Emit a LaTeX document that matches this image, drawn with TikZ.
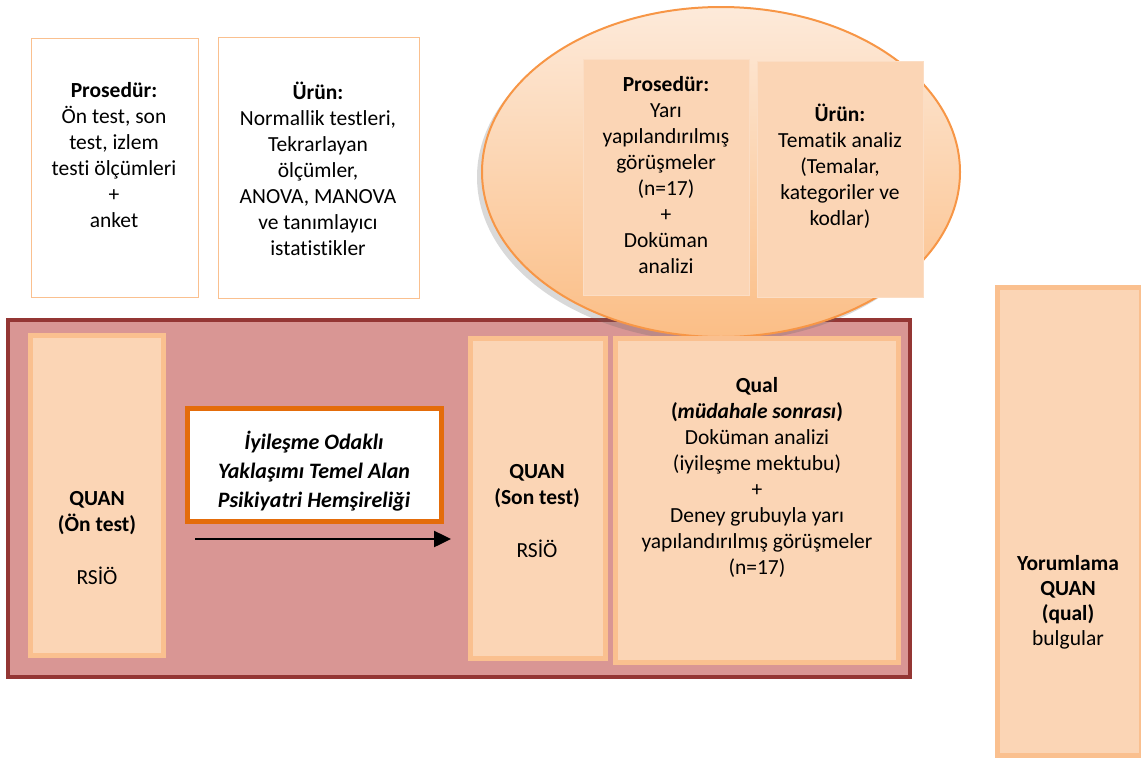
\documentclass[tikz,border=0pt]{standalone}
\usepackage{fontspec}
\setmainfont{Carlito}[Ligatures=NoCommon]
\usetikzlibrary{arrows.meta,shapes.geometric,shadows}
\definecolor{FrameRed}{HTML}{943634}
\definecolor{FrameFill}{HTML}{D99694}
\definecolor{PeachFill}{HTML}{FBD5B5}
\definecolor{PeachLine}{HTML}{FAC08F}
\definecolor{PaleLine}{HTML}{FBDDC4}
\definecolor{OvalLine}{HTML}{F79646}
\definecolor{OvalTop}{HTML}{FDEADA}
\definecolor{OvalBottom}{HTML}{FBBE86}
\definecolor{InterLine}{HTML}{E46C0A}
\newcommand{\boxfont}{\fontsize{21.5}{26}\selectfont}
\tikzset{
  whitebox/.style={draw=PeachLine, line width=1pt, fill=white, rectangle},
  peachbox/.style={draw=PeachLine, line width=5pt, fill=PeachFill, rectangle},
  ovalbox/.style={draw=PaleLine, line width=1pt, fill=PeachFill, rectangle},
  txt/.style={align=center, anchor=north, inner sep=0pt, font=\boxfont},
}
\begin{document}
\begin{tikzpicture}[x=1pt, y=-1pt]
  \useasboundingbox (0,0) rectangle (1141,758);
  % top boxes
  \node[whitebox, minimum width=167pt, minimum height=259pt] (proc1) at (114.5,167.5) {};
  \node[whitebox, minimum width=201pt, minimum height=261pt] (urun1) at (318.5,167.5) {};
  \node[txt] (proc1txt) at (114,82) {\textbf{Prosedür:}\\Ön test, son\\test, izlem\\testi ölçümleri\\+\\anket};
  \node[txt] (urun1txt) at (318,82) {\textbf{Ürün:}\\Normallik testleri,\\Tekrarlayan\\ölçümler,\\ANOVA, MANOVA\\ve tanımlayıcı\\istatistikler};
  % frame
  \node[draw=FrameRed, line width=4pt, fill=FrameFill, rectangle,
    minimum width=902pt, minimum height=357pt] (frame) at (459,498.5) {};
  % oval
  \node[ellipse, draw=OvalLine, line width=2pt, top color=OvalTop, bottom color=OvalBottom,
    drop shadow={shadow xshift=-5pt, shadow yshift=-5pt, opacity=.25, fill=black!60},
    minimum width=478pt, minimum height=330pt] (oval) at (721,172) {};
  \node[ovalbox, minimum width=166pt, minimum height=236pt] (proc2) at (666,177) {};
  \node[ovalbox, minimum width=166pt, minimum height=236pt] (urun2) at (840,179) {};
  \node[txt] (proc2txt) at (666,76) {\textbf{Prosedür:}\\Yarı\\yapılandırılmış\\görüşmeler\\(n=17)\\+\\Doküman\\analizi};
  \node[txt] (urun2txt) at (840,104) {\textbf{Ürün:}\\Tematik analiz\\(Temalar,\\kategoriler ve\\kodlar)};
  % inner boxes
  \node[peachbox, minimum width=133pt, minimum height=320pt] (quanpre) at (96.5,495) {};
  \node[txt] (quanpretxt) at (97,491) {\textbf{QUAN}\\\textbf{(Ön test)}\\[27pt]RSİÖ};
  \node[draw=InterLine, line width=5pt, fill=white, rectangle,
    minimum width=254pt, minimum height=113pt] (iyilesme) at (314,464.5) {};
  \node[txt, font=\fontsize{22}{29}\selectfont\bfseries\itshape] (iyilesmetxt) at (314,431)
    {İyileşme Odaklı\\Yaklaşımı Temel Alan\\Psikiyatri Hemşireliği};
  \node[peachbox, minimum width=135pt, minimum height=320pt] (quanpost) at (537.5,498) {};
  \node[txt] (quanposttxt) at (537,464) {\textbf{QUAN}\\\textbf{(Son test)}\\[27pt]RSİÖ};
  \node[peachbox, minimum width=283pt, minimum height=324pt] (qual) at (756.5,500) {};
  \node[txt] (qualtxt) at (757,377) {\textbf{Qual}\\\textbf{(\textit{müdahale sonrası})}\\Doküman analizi\\(iyileşme mektubu)\\+\\Deney grubuyla yarı\\yapılandırılmış görüşmeler\\(n=17)};
  \node[peachbox, minimum width=144pt, minimum height=468pt] (yorum) at (1069,521) {};
  \node[txt, font=\fontsize{21.5}{25}\selectfont] (yorumtxt) at (1068,555) {\textbf{Yorumlama}\\\textbf{QUAN}\\\textbf{(qual)}\\bulgular};
  % arrow
  \coordinate (arrstart) at (195,539);
  \coordinate (arrend) at (451,539);
  \draw[line width=2.5pt, -{Triangle[length=17pt, width=16pt]}] (arrstart) -- (arrend);
\end{tikzpicture}
\end{document}
